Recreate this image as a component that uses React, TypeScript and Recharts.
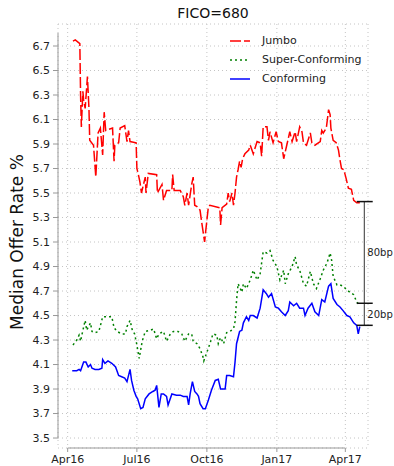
import React from 'react';
import { LineChart, Line, XAxis, YAxis, CartesianGrid, ReferenceLine } from 'recharts';

// days since 2016-04-01
const jumboDays = [7, 10, 16, 17, 18, 20, 21, 23, 26, 28, 29, 34, 37, 40, 43, 46, 48, 50, 59, 61, 62, 67, 69, 75, 78, 80, 82, 90, 91, 93, 95, 97, 102, 103, 106, 117, 118, 124, 126, 130, 137, 138, 140, 148, 152, 154, 157, 159, 163, 165, 167, 170, 174, 176, 180, 182, 185, 187, 200, 201, 203, 209, 211, 213, 216, 218, 220, 222, 224, 226, 228, 230, 233, 238, 240, 244, 249, 253, 255, 257, 262, 264, 266, 270, 274, 277, 281, 284, 288, 292, 295, 299, 301, 305, 308, 310, 314, 319, 321, 325, 332, 334, 336, 340, 343, 345, 346, 349, 353, 356, 358, 360, 363, 366, 369, 373, 376, 380, 384];
const jumboRates = [6.74, 6.75, 6.72, 6.29, 6.04, 6.33, 6.26, 6.19, 6.45, 6.19, 5.93, 5.89, 5.63, 5.99, 6.03, 5.81, 6.16, 6.01, 6.03, 5.76, 5.89, 5.91, 6.03, 6.05, 5.92, 6.01, 5.92, 5.91, 5.70, 5.65, 5.59, 5.50, 5.63, 5.50, 5.66, 5.65, 5.50, 5.57, 5.44, 5.52, 5.52, 5.65, 5.52, 5.52, 5.47, 5.40, 5.50, 5.40, 5.57, 5.63, 5.40, 5.39, 5.36, 5.27, 5.10, 5.22, 5.39, 5.40, 5.38, 5.24, 5.38, 5.41, 5.50, 5.43, 5.50, 5.40, 5.50, 5.63, 5.69, 5.76, 5.71, 5.78, 5.82, 5.85, 5.89, 5.82, 5.92, 5.91, 5.80, 6.04, 6.04, 5.93, 6.00, 5.91, 6.00, 5.92, 5.91, 5.78, 5.89, 6.00, 5.92, 6.00, 5.92, 6.04, 6.00, 5.91, 5.89, 5.99, 5.91, 5.89, 5.92, 6.01, 5.99, 6.03, 6.18, 6.14, 6.03, 5.93, 5.91, 5.85, 5.77, 5.70, 5.69, 5.62, 5.54, 5.53, 5.44, 5.42, 5.42];

const superDays = [7, 12, 15, 17, 19, 23, 25, 30, 32, 36, 41, 44, 46, 52, 58, 61, 65, 71, 76, 78, 82, 85, 88, 91, 94, 98, 102, 109, 113, 117, 120, 126, 130, 135, 139, 145, 150, 154, 159, 163, 165, 170, 174, 178, 179, 183, 187, 191, 196, 198, 201, 205, 209, 213, 218, 220, 222, 224, 229, 231, 235, 240, 244, 249, 253, 257, 262, 266, 270, 275, 279, 284, 286, 290, 295, 299, 301, 305, 310, 314, 319, 323, 327, 332, 336, 341, 345, 347, 349, 354, 358, 362, 367, 371, 376, 380, 383];
const superRates = [4.26, 4.30, 4.34, 4.29, 4.35, 4.46, 4.38, 4.44, 4.37, 4.36, 4.37, 4.44, 4.49, 4.49, 4.49, 4.40, 4.37, 4.35, 4.35, 4.41, 4.46, 4.38, 4.35, 4.26, 4.15, 4.29, 4.37, 4.38, 4.39, 4.31, 4.35, 4.37, 4.29, 4.35, 4.37, 4.37, 4.35, 4.29, 4.35, 4.35, 4.29, 4.27, 4.23, 4.16, 4.13, 4.20, 4.27, 4.35, 4.34, 4.27, 4.32, 4.27, 4.36, 4.37, 4.39, 4.45, 4.62, 4.76, 4.69, 4.76, 4.72, 4.79, 4.87, 4.79, 4.84, 5.02, 5.01, 5.03, 4.95, 4.90, 4.79, 4.87, 4.76, 4.84, 4.90, 4.98, 4.91, 4.87, 4.76, 4.74, 4.86, 4.76, 4.72, 4.80, 4.87, 4.93, 5.01, 4.95, 4.82, 4.75, 4.75, 4.74, 4.71, 4.69, 4.67, 4.61, 4.59];

const confDays = [6, 12, 15, 17, 21, 24, 27, 30, 32, 36, 41, 45, 46, 49, 53, 58, 63, 67, 71, 75, 78, 82, 84, 87, 90, 92, 96, 99, 102, 107, 112, 115, 117, 120, 123, 126, 130, 132, 137, 143, 148, 152, 157, 159, 161, 164, 167, 170, 172, 174, 178, 181, 185, 189, 194, 198, 201, 207, 209, 213, 218, 220, 222, 226, 229, 231, 235, 238, 240, 244, 249, 253, 257, 261, 264, 268, 273, 277, 281, 286, 290, 292, 297, 301, 305, 310, 312, 316, 321, 325, 330, 334, 338, 343, 346, 349, 354, 358, 362, 367, 371, 376, 380, 382, 384];
const confRates = [4.05, 4.05, 4.06, 4.05, 4.12, 4.12, 4.08, 4.10, 4.07, 4.06, 4.06, 4.07, 4.14, 4.11, 4.13, 4.11, 4.08, 4.01, 4.00, 3.99, 3.96, 4.06, 3.97, 3.89, 3.84, 3.82, 3.74, 3.75, 3.82, 3.86, 3.88, 3.89, 3.93, 3.75, 3.86, 3.86, 3.84, 3.77, 3.86, 3.85, 3.85, 3.84, 3.84, 3.77, 3.86, 3.96, 3.88, 3.86, 3.84, 3.78, 3.74, 3.74, 3.81, 3.89, 3.97, 3.98, 3.90, 3.90, 4.01, 4.01, 4.00, 4.12, 4.27, 4.37, 4.38, 4.44, 4.49, 4.46, 4.50, 4.50, 4.48, 4.56, 4.71, 4.68, 4.65, 4.68, 4.57, 4.56, 4.53, 4.50, 4.54, 4.61, 4.58, 4.60, 4.56, 4.56, 4.50, 4.56, 4.60, 4.53, 4.50, 4.63, 4.61, 4.74, 4.76, 4.64, 4.59, 4.57, 4.54, 4.50, 4.49, 4.44, 4.42, 4.35, 4.41];

const monthTicks = [0, 91, 183, 275, 365];
const monthLabels = ['Apr16', 'Jul16', 'Oct16', 'Jan17', 'Apr17'];
const rateTicks = [3.5, 3.7, 3.9, 4.1, 4.3, 4.5, 4.7, 4.9, 5.1, 5.3, 5.5, 5.7, 5.9, 6.1, 6.3, 6.5, 6.7];

const spreadDay = 390;
const spreadCap = [380, 401];
const spreadLevels = [5.43, 4.60, 4.42];
const spreadLabels = ['80bp', '20bp'];

const seriesNames = ['Jumbo', 'Super-Conforming', 'Conforming'];
const seriesColors = ['#ff0000', '#008000', '#0000ff'];
const seriesDash = ['11 3', '2 3', undefined];

const X_MIN = -12.7;
const X_MAX = 394.8;
const Y_MIN = 3.4186;
const Y_MAX = 6.8796;
const Y_SPINE_TOP = 6.806;

const W = 394;
const H = 466;

const toData = (days: number[], rates: number[]) => days.map((d, i) => ({ d, v: rates[i] }));
const jumboData = toData(jumboDays, jumboRates);
const superData = toData(superDays, superRates);
const confData = toData(confDays, confRates);
const allData = [jumboData, superData, confData];

const font = "'DejaVu Sans', sans-serif";

export default function App() {
  return (
    <div style={{ position: 'absolute', left: 0, top: 0, width: W, height: H, fontFamily: font, color: '#222', overflow: 'hidden' }}>
      <div style={{ position: 'absolute', left: 0, top: 4, width: 426, textAlign: 'center', fontSize: 14, lineHeight: '18px', color: '#111' }}>
        FICO=680
      </div>
      <div style={{ position: 'absolute', left: 17 - 150, top: 242 - 11, width: 300, height: 22, lineHeight: '22px', textAlign: 'center', fontSize: 17, transform: 'rotate(-90deg)', color: '#111' }}>
        Median Offer Rate %
      </div>
      <LineChart width={W} height={H} margin={{ top: 24, right: 26, bottom: 0, left: 0 }}>
        <CartesianGrid stroke="#c4c4c4" strokeDasharray="1 3" />
        <XAxis
          type="number"
          dataKey="d"
          domain={[X_MIN, X_MAX]}
          ticks={monthTicks}
          interval={0}
          allowDataOverflow
          tickFormatter={(v: number) => monthLabels[monthTicks.indexOf(v)]}
          axisLine={false}
          tickLine={{ stroke: '#999' }}
          tickSize={4}
          tickMargin={3}
          height={18}
          tick={{ fill: '#222', fontSize: 11 }}
        />
        <YAxis
          type="number"
          dataKey="v"
          domain={[Y_MIN, Y_MAX]}
          ticks={rateTicks}
          interval={0}
          allowDataOverflow
          tickFormatter={(v: number) => v.toFixed(1)}
          axisLine={false}
          tickLine={{ stroke: '#999' }}
          tickSize={5}
          tickMargin={3}
          width={58}
          tick={{ fill: '#222', fontSize: 11 }}
        />
        <ReferenceLine segment={[{ x: X_MIN, y: rateTicks[0] }, { x: X_MIN, y: Y_SPINE_TOP }]} stroke="#999" strokeWidth={1} ifOverflow="visible" />
        <ReferenceLine segment={[{ x: monthTicks[0], y: Y_MIN }, { x: monthTicks[4], y: Y_MIN }]} stroke="#999" strokeWidth={1} ifOverflow="visible" />
        {allData.map((data, i) => (
          <Line
            key={seriesNames[i]}
            data={data}
            dataKey="v"
            name={seriesNames[i]}
            type="linear"
            stroke={seriesColors[i]}
            strokeWidth={1.5}
            strokeDasharray={seriesDash[i]}
            dot={false}
            activeDot={false}
            isAnimationActive={false}
          />
        ))}
        <ReferenceLine
          segment={[{ x: spreadDay, y: spreadLevels[0] }, { x: spreadDay, y: spreadLevels[1] }]}
          stroke="#555"
          strokeWidth={1.2}
          ifOverflow="visible"
          label={{ value: spreadLabels[0], position: 'right', fill: '#222', fontSize: 10, offset: 3 }}
        />
        <ReferenceLine
          segment={[{ x: spreadDay, y: spreadLevels[1] }, { x: spreadDay, y: spreadLevels[2] }]}
          stroke="#555"
          strokeWidth={1.2}
          ifOverflow="visible"
          label={{ value: spreadLabels[1], position: 'right', fill: '#222', fontSize: 10, offset: 3 }}
        />
        {spreadLevels.map((lv) => (
          <ReferenceLine
            key={lv}
            segment={[{ x: spreadCap[0], y: lv }, { x: spreadCap[1], y: lv }]}
            stroke="#111"
            strokeWidth={1.5}
            ifOverflow="visible"
          />
        ))}
      </LineChart>
      {seriesNames.map((name, i) => (
        <div key={name} style={{ position: 'absolute', left: 229, top: 32 + i * 19, height: 18, lineHeight: '18px', fontSize: 11, display: 'flex', alignItems: 'center', color: '#222' }}>
          <svg width={22} height={18} style={{ display: 'block' }}>
            <line x1={1} y1={9} x2={21} y2={9} stroke={seriesColors[i]} strokeWidth={1.5} strokeDasharray={seriesDash[i]} />
          </svg>
          <span style={{ marginLeft: 11 }}>{name}</span>
        </div>
      ))}
    </div>
  );
}
